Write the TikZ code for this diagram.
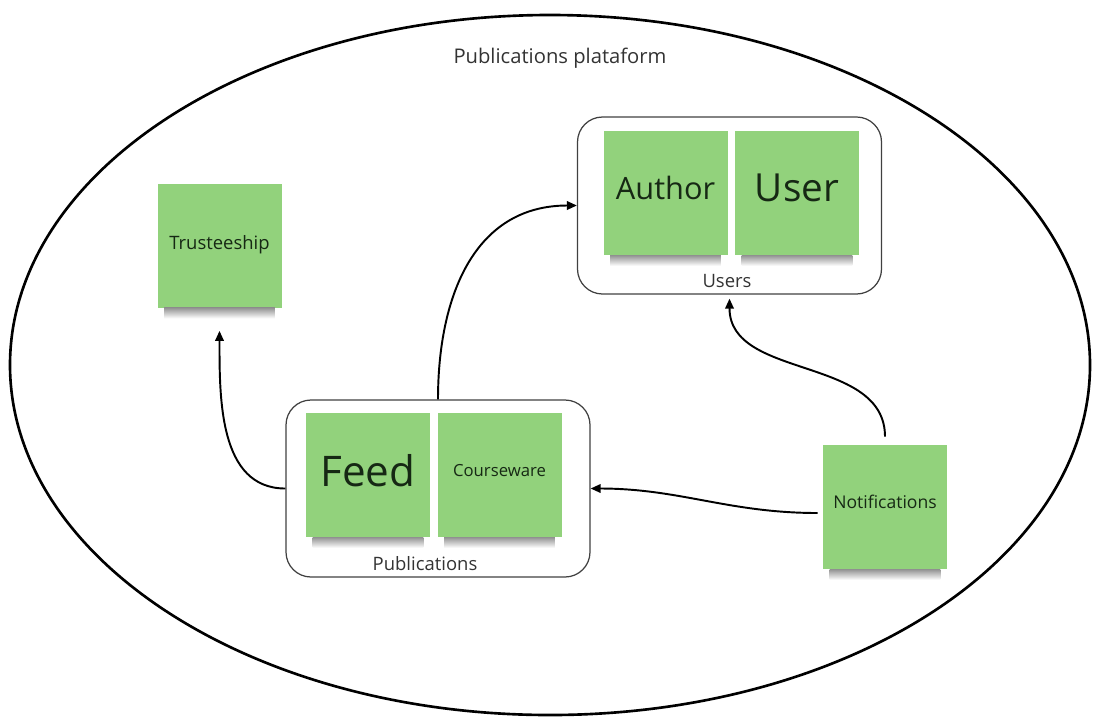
\documentclass[tikz,border=0pt]{standalone}
\usepackage{fontspec}
\setmainfont{Open Sans}
\usepackage{xcolor}
\usepackage{tikz}
\usetikzlibrary{
	positioning,    % posizionamento relativo
	arrows.meta     % punte delle frecce
}
\definecolor{verdenota}{RGB}{146,210,124}
\definecolor{testonota}{RGB}{22,40,20}

\begin{document}
\begin{tikzpicture}[
				foglietto/.style={rectangle, fill=verdenota, text=testonota,
					minimum width=2.48cm, minimum height=2.48cm, inner sep=0pt, text depth=5.5pt},
				ombra/.style={top color=black!42, bottom color=white},
				gruppo/.style={rectangle, draw=black!75, line width=0.7pt, rounded corners=0.5cm,
					minimum width=6.08cm, minimum height=3.54cm},
				freccia/.style={-{Triangle[length=2mm, width=1.7mm]}, line width=1.1pt},
				etichetta/.style={text=black!80, font=\fontsize{10.5}{12}\selectfont}
				]
				\useasboundingbox (0,0) rectangle (21.98,-14.34);
				
				% --- Piattaforma ---
				\draw[line width=1.5pt] (11.0,-7.3) ellipse [x radius=10.8, y radius=7.0];
				\node[text=black!80, font=\fontsize{11.5}{13}\selectfont] (titolo) at (11.2,-1.16) {Publications plataform};
				
				% --- Gruppi ---
				\node[gruppo] (users) at (14.59,-4.11) {};
				\node[gruppo] (pub) at (8.76,-9.77) {};
				\node[etichetta] (lusers) at (14.54,-5.62) {Users};
				\node[etichetta] (lpub) at (8.5,-11.28) {Publications};
				
				% --- Foglietti ---
				\node[foglietto, font=\fontsize{17.5}{20}\selectfont] (author) at (13.31,-3.86) {Author};
				\node[foglietto, font=\fontsize{22}{26}\selectfont] (user) at (15.94,-3.86) {User};
				\node[foglietto, font=\fontsize{24}{28}\selectfont] (feed) at (7.36,-9.5) {Feed};
				\node[foglietto, font=\fontsize{9.5}{11}\selectfont] (course) at (9.99,-9.5) {Courseware};
				\node[foglietto, font=\fontsize{10}{12}\selectfont] (notif) at (17.7,-10.14) {Notifications};
				\node[foglietto, text depth=3pt, font=\fontsize{10.5}{12}\selectfont] (trust) at (4.39,-4.91) {Trusteeship};
				
				% ombre sotto i foglietti
				\foreach \n in {author,user,feed,course,notif,trust}
					\shade[ombra] ([xshift=4pt]\n.south west) rectangle ([xshift=-4pt, yshift=-6pt]\n.south east);
				
				% --- Frecce ---
				\draw[freccia] (pub.west) to[out=180, in=-90] ([yshift=-4.6mm]trust.south);
				\draw[freccia] (pub.north) to[out=90, in=180, looseness=1.1] (users.west);
				\draw[freccia] ([yshift=1.6mm]notif.north) to[out=90, in=-90] ([yshift=-0.8mm]users.south);
				\draw[freccia] ([xshift=-1mm, yshift=-1.2mm]notif.west) to[out=180, in=0] (pub.east);
				
			\end{tikzpicture}
\end{document}
